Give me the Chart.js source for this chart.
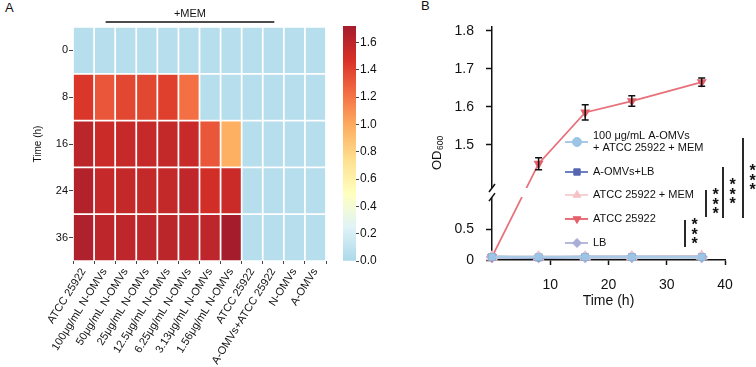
<!DOCTYPE html>
<html lang="en">
<head>
  <meta charset="UTF-8" />
  <title>OD600 heatmap and growth curves</title>
  <script src="https://cdn.jsdelivr.net/npm/chart.js@4"></script>
  <style>
    body {
      margin: 0;
      width: 756px;
      height: 367px;
      background: #fff;
      position: relative;
      overflow: hidden;
      font-family: 'Liberation Sans', Arial, sans-serif;
    }
    .letra { position: absolute; font-size: 13px; color: #111; }
    canvas { position: absolute; top: 0; }
  </style>
</head>
<body>
  <div class="letra" style="left:5px; top:0px;">A</div>
  <div class="letra" style="left:421px; top:-2px;">B</div>
  <canvas id="heat" width="335" height="367" style="left:0"></canvas>
  <canvas id="cbar" width="45" height="367" style="left:335px"></canvas>
  <canvas id="curve" width="376" height="367" style="left:380px"></canvas>

  <script>
    const FONT = "'Liberation Sans', Arial, sans-serif";

    // ---- panel A data (OD600 per group, one array per time point)
    const heatTimes = ['0', '8', '16', '24', '36'];
    const heatGroups = [
      'ATCC 25922', '100μg/mL N-OMVs', '50μg/mL N-OMVs', '25μg/mL N-OMVs',
      '12.5μg/mL N-OMVs', '6.25μg/mL N-OMVs', '3.13μg/mL N-OMVs', '1.56μg/mL N-OMVs',
      'ATCC 25922', 'A-OMVs+ATCC 25922', 'N-OMVs', 'A-OMVs'
    ];
    const od0h  = [0.05, 0.05, 0.05, 0.05, 0.05, 0.05, 0.05, 0.05, 0.05, 0.05, 0.05, 0.05];
    const od8h  = [1.45, 1.32, 1.38, 1.38, 1.41, 1.22, 0.05, 0.05, 0.05, 0.05, 0.05, 0.05];
    const od16h = [1.61, 1.54, 1.56, 1.56, 1.57, 1.55, 1.32, 0.98, 0.05, 0.05, 0.05, 0.05];
    const od24h = [1.65, 1.56, 1.57, 1.57, 1.57, 1.59, 1.50, 1.54, 0.05, 0.05, 0.05, 0.05];
    const od36h = [1.67, 1.60, 1.60, 1.60, 1.61, 1.60, 1.60, 1.72, 0.05, 0.05, 0.05, 0.05];
    const heatRows = [od0h, od8h, od16h, od24h, od36h];
    const memSpan = [1, 9];          // columns under the "+MEM" bar
    const colorbarTicks = [0, 0.2, 0.4, 0.6, 0.8, 1.0, 1.2, 1.4, 1.6];
    const colorbarMax = 1.72;

    // ---- panel B data
    const curveTimes = [0, 8, 16, 24, 36];
    const odAOmvsAtccMem = [0.05, 0.05, 0.05, 0.05, 0.05];
    const odAOmvsLB      = [0.05, 0.04, 0.05, 0.05, 0.05];
    const odAtccMem      = [0.05, 0.05, 0.05, 0.05, 0.06];
    const odAtcc         = [0.05, 1.45, 1.585, 1.615, 1.665];
    const sdAtcc         = [0, 0.016, 0.02, 0.014, 0.011];
    const odLB           = [0.05, 0.05, 0.05, 0.05, 0.05];
    const curveLabels = [
      ['100 μg/mL A-OMVs', '+ ATCC 25922 + MEM'],
      ['A-OMVs+LB'],
      ['ATCC 25922 + MEM'],
      ['ATCC 25922'],
      ['LB']
    ];
    const curveTicksX = [10, 20, 30, 40];
    const curveTicksY = [0, 0.5, 1.5, 1.6, 1.7, 1.8];

    // ---- colour map (blue -> white -> yellow -> red)
    const cmapStops = ['#abd9e9', '#e0f3f8', '#ffffbf', '#fee090', '#fdae61', '#f46d43', '#d73027', '#a51d2d'];
    function hexRgb(h) {
      const n = parseInt(h.slice(1), 16);
      return [n >> 16, (n >> 8) & 255, n & 255];
    }
    function colorFor(v) {
      const t = Math.max(0, Math.min(1, v / colorbarMax)) * (cmapStops.length - 1);
      const i = Math.min(Math.floor(t), cmapStops.length - 2);
      const f = t - i;
      const a = hexRgb(cmapStops[i]), b = hexRgb(cmapStops[i + 1]);
      const c = a.map((x, k) => Math.round(x + (b[k] - x) * f));
      return 'rgb(' + c.join(',') + ')';
    }

    // ---- A: heatmap
    const memBar = {
      id: 'memBar',
      afterDraw(chart) {
        const { ctx } = chart;
        const x = chart.scales.x;
        const x1 = x.getPixelForValue(memSpan[0]) + 1;
        const x2 = x.getPixelForValue(memSpan[1]) + 1;
        ctx.save();
        ctx.strokeStyle = '#111';
        ctx.lineWidth = 1.5;
        ctx.beginPath();
        ctx.moveTo(x1, 22);
        ctx.lineTo(x2, 22);
        ctx.stroke();
        ctx.fillStyle = '#111';
        ctx.font = '11px ' + FONT;
        ctx.textAlign = 'center';
        ctx.textBaseline = 'middle';
        ctx.fillText('+MEM', (x1 + x2) / 2, 14);
        ctx.restore();
      }
    };

    new Chart(document.getElementById('heat'), {
      type: 'bar',
      data: {
        labels: heatGroups,
        datasets: heatRows.map((row, r) => ({
          label: heatTimes[r] + ' h',
          data: row.map(() => [r, r + 1]),
          backgroundColor: row.map(colorFor),
          borderColor: '#fff',
          borderWidth: 1.2,
          borderSkipped: false,
          barPercentage: 1,
          categoryPercentage: 1,
          grouped: false
        }))
      },
      options: {
        responsive: false,
        animation: false,
        layout: { padding: { top: 27, right: 9, left: 0, bottom: 0 } },
        plugins: { legend: { display: false }, tooltip: { enabled: false } },
        scales: {
          x: {
            grid: { drawOnChartArea: false, tickLength: 3, tickColor: '#444', tickWidth: 1 },
            border: { display: false },
            ticks: {
              autoSkip: false, maxRotation: 58, minRotation: 58, padding: 2,
              color: '#111', font: { size: 11, family: FONT }
            },
            afterFit: s => { s.height = 106; }
          },
          y: {
            min: 0, max: 5, reverse: true,
            afterBuildTicks: s => { s.ticks = heatTimes.map((t, i) => ({ value: i + 0.5 })); },
            grid: { drawOnChartArea: false, tickLength: 4, tickColor: '#444', tickWidth: 1 },
            border: { display: false },
            ticks: {
              callback: (v, i) => heatTimes[i], padding: 1,
              color: '#111', font: { size: 11, family: FONT }
            },
            title: {
              display: true, text: 'Time (h)', color: '#111',
              font: { size: 10, family: FONT }, padding: { top: 32, bottom: 0 }
            },
            afterFit: s => { s.width = 73; }
          }
        }
      },
      plugins: [memBar]
    });

    // ---- A: colour bar
    new Chart(document.getElementById('cbar'), {
      type: 'bar',
      data: {
        labels: [''],
        datasets: [{
          data: [[0, colorbarMax]],
          backgroundColor: c => {
            const chart = c.chart;
            if (!chart.chartArea) return cmapStops[0];
            const y = chart.scales.y;
            const g = chart.ctx.createLinearGradient(0, y.getPixelForValue(0), 0, y.getPixelForValue(colorbarMax));
            cmapStops.forEach((col, i) => g.addColorStop(i / (cmapStops.length - 1), col));
            return g;
          },
          borderWidth: 0,
          barPercentage: 1,
          categoryPercentage: 1
        }]
      },
      options: {
        responsive: false,
        animation: false,
        layout: { padding: { top: 26, left: 8, right: 0, bottom: 106 } },
        plugins: { legend: { display: false }, tooltip: { enabled: false } },
        scales: {
          x: { display: false },
          y: {
            position: 'right', min: 0, max: colorbarMax,
            afterBuildTicks: s => { s.ticks = colorbarTicks.map(v => ({ value: v })); },
            grid: { drawOnChartArea: false, tickLength: 3, tickColor: '#444', tickWidth: 1 },
            border: { display: false },
            ticks: {
              callback: v => v.toFixed(1), padding: 1,
              color: '#111', font: { size: 12, family: FONT }
            },
            afterFit: s => { s.width = 24; }
          }
        }
      }
    });

    // ---- B: y axis with a break between ~1.0 and ~1.4
    const LOW_MAX = 1.026, UP_MIN = 1.386, Y_MAX = 1.81;
    const F_LOW = 0.27, F_UP = 0.691;

    class BrokenLinearScale extends Chart.LinearScale {
      static id = 'brokenLinear';
      static defaults = Chart.LinearScale.defaults;
      _frac(v) {
        if (v <= LOW_MAX) return v / LOW_MAX * F_LOW;
        if (v >= UP_MIN) return 1 - (Y_MAX - v) / (Y_MAX - UP_MIN) * F_UP;
        return F_LOW + (v - LOW_MAX) / (UP_MIN - LOW_MAX) * (1 - F_LOW - F_UP);
      }
      getPixelForValue(v) {
        return this.bottom - this._frac(v) * (this.bottom - this.top);
      }
      getValueForPixel(p) {
        const f = (this.bottom - p) / (this.bottom - this.top);
        if (f <= F_LOW) return f / F_LOW * LOW_MAX;
        if (f >= 1 - F_UP) return Y_MAX - (1 - f) / F_UP * (Y_MAX - UP_MIN);
        return LOW_MAX + (f - F_LOW) / (1 - F_LOW - F_UP) * (UP_MIN - LOW_MAX);
      }
    }
    Chart.register(BrokenLinearScale);

    const toPoints = vals => vals.map((v, i) => ({ x: curveTimes[i], y: v }));

    const series = [
      { data: odAOmvsAtccMem, line: '#a9c9e4', fill: '#9cc4e4', style: 'rect', rot: 0, r: 3.5 },
      { data: odAOmvsLB, line: '#6f7fc0', fill: '#5566b0', style: 'rect', rot: 0, r: 3.5 },
      { data: odAtccMem, line: '#f7d0d2', fill: '#f5c3c6', style: 'triangle', rot: 0, r: 4.5 },
      { data: odAtcc, line: '#e8707a', fill: '#e5606b', style: 'triangle', rot: 180, r: 4 },
      { data: odLB, line: '#b5b9dc', fill: '#a9aed6', style: 'rectRot', rot: 0, r: 4.5 }
    ];
    const legendStyles = ['circle', 'rect', 'triangle', 'triangle', 'rectRot'];
    const ATCC_INDEX = 3;

    const breakMarks = {
      id: 'breakMarks',
      afterDatasetsDraw(chart) {
        const { ctx, chartArea } = chart;
        const y = chart.scales.y;
        const yTop = y.getPixelForValue(UP_MIN), yBot = y.getPixelForValue(LOW_MAX);
        ctx.save();
        ctx.fillStyle = '#fff';
        ctx.fillRect(chartArea.left + 2, yTop, chartArea.width - 2, yBot - yTop);
        ctx.restore();
      },
      afterDraw(chart) {
        const { ctx, chartArea } = chart;
        const y = chart.scales.y;
        const yTop = y.getPixelForValue(UP_MIN), yBot = y.getPixelForValue(LOW_MAX);
        const x = chartArea.left;
        ctx.save();
        ctx.fillStyle = '#fff';
        ctx.fillRect(x - 3, yTop, 6, yBot - yTop);
        ctx.strokeStyle = '#111';
        ctx.lineWidth = 1.5;
        [yTop, yBot].forEach(yy => {
          ctx.beginPath();
          ctx.moveTo(x - 3, yy + 4);
          ctx.lineTo(x + 3, yy - 4);
          ctx.stroke();
        });
        ctx.restore();
      }
    };

    const errorBars = {
      id: 'errorBars',
      afterDatasetsDraw(chart) {
        const { ctx } = chart;
        const xs = chart.scales.x, ys = chart.scales.y;
        ctx.save();
        ctx.strokeStyle = '#111';
        ctx.lineWidth = 1.5;
        odAtcc.forEach((v, i) => {
          if (!sdAtcc[i]) return;
          const x = xs.getPixelForValue(curveTimes[i]);
          const y1 = ys.getPixelForValue(v - sdAtcc[i]);
          const y2 = ys.getPixelForValue(v + sdAtcc[i]);
          ctx.beginPath();
          ctx.moveTo(x, y1); ctx.lineTo(x, y2);
          ctx.moveTo(x - 3.5, y1); ctx.lineTo(x + 3.5, y1);
          ctx.moveTo(x - 3.5, y2); ctx.lineTo(x + 3.5, y2);
          ctx.stroke();
        });
        ctx.restore();
      }
    };

    const sideLegend = {
      id: 'sideLegend',
      afterDraw(chart) {
        const { ctx, chartArea } = chart;
        const left = chartArea.left;
        const rowsY = [142, 172, 195, 219, 243];
        ctx.save();
        ctx.font = '11px ' + FONT;
        ctx.textBaseline = 'middle';
        ctx.textAlign = 'left';
        series.forEach((s, i) => {
          const yc = rowsY[i];
          ctx.strokeStyle = s.line;
          ctx.lineWidth = 2;
          ctx.beginPath();
          ctx.moveTo(left + 73, yc);
          ctx.lineTo(left + 96, yc);
          ctx.stroke();
          ctx.fillStyle = s.fill;
          ctx.strokeStyle = s.fill;
          ctx.lineWidth = 1;
          Chart.helpers.drawPoint(ctx, { pointStyle: legendStyles[i], radius: 4.5, rotation: s.rot, borderWidth: 1 }, left + 85, yc);
          ctx.fillStyle = '#111';
          const lines = curveLabels[i];
          lines.forEach((t, k) => {
            ctx.fillText(t, left + 101, yc + (k - (lines.length - 1) / 2) * 12.5);
          });
        });
        ctx.restore();
      }
    };

    // significance brackets: offsets from the right edge / top of the plot area
    const sigMarks = [
      { dx: -40, y1: 193, y2: 220 },
      { dx: -19, y1: 163, y2: 190 },
      { dx: -2, y1: 140, y2: 191, starTop: 155 },
      { dx: 18, y1: 111, y2: 191, starTop: 141 }
    ];
    const sigBars = {
      id: 'sigBars',
      afterDraw(chart) {
        const { ctx, chartArea } = chart;
        ctx.save();
        ctx.strokeStyle = '#111';
        ctx.fillStyle = '#111';
        ctx.lineWidth = 1.8;
        ctx.font = 'bold 16px ' + FONT;
        ctx.textAlign = 'center';
        ctx.textBaseline = 'middle';
        sigMarks.forEach(m => {
          const x = chartArea.right + m.dx;
          ctx.beginPath();
          ctx.moveTo(x, chartArea.top + m.y1);
          ctx.lineTo(x, chartArea.top + m.y2);
          ctx.stroke();
          const st = chartArea.top + (m.starTop !== undefined ? m.starTop : m.y1 + 2);
          for (let k = 0; k < 3; k++) {
            ctx.fillText('*', x + 9.5, st + k * 9.3 + 4);
          }
        });
        ctx.restore();
      }
    };

    const odTitle = {
      id: 'odTitle',
      afterDraw(chart) {
        const { ctx } = chart;
        ctx.save();
        ctx.translate(57, 170);
        ctx.rotate(-Math.PI / 2);
        ctx.fillStyle = '#111';
        ctx.textBaseline = 'middle';
        ctx.textAlign = 'left';
        ctx.font = '13px ' + FONT;
        ctx.fillText('OD', 0, 0);
        const w = ctx.measureText('OD').width;
        ctx.font = '8.5px ' + FONT;
        ctx.fillText('600', w + 0.5, 4);
        ctx.restore();
      }
    };

    new Chart(document.getElementById('curve'), {
      type: 'line',
      data: {
        datasets: series.map((s, i) => ({
          label: curveLabels[i].join(' '),
          data: toPoints(s.data),
          borderColor: s.line,
          backgroundColor: s.fill,
          pointBackgroundColor: s.fill,
          pointBorderColor: s.fill,
          pointStyle: s.style,
          pointRotation: s.rot,
          pointRadius: s.r,
          borderWidth: i === ATCC_INDEX ? 1.8 : 2.5,
          clip: false
        }))
      },
      options: {
        responsive: false,
        animation: false,
        layout: { padding: { top: 27, right: 31, left: 0, bottom: 57 } },
        plugins: { legend: { display: false }, tooltip: { enabled: false } },
        scales: {
          x: {
            type: 'linear', min: 0, max: 40,
            afterBuildTicks: s => { s.ticks = curveTicksX.map(v => ({ value: v })); },
            grid: { drawOnChartArea: false, tickLength: 5, tickColor: '#111', tickWidth: 1.5 },
            border: { color: '#111', width: 1.5 },
            ticks: { padding: 12, color: '#111', font: { size: 14, family: FONT } },
            title: {
              display: true, text: 'Time (h)', color: '#111',
              font: { size: 14, family: FONT }, padding: { top: 0, bottom: 0 }
            },
            afterFit: s => { s.height = 50; }
          },
          y: {
            type: 'brokenLinear', min: 0, max: Y_MAX,
            afterBuildTicks: s => { s.ticks = curveTicksY.map(v => ({ value: v })); },
            grid: { drawOnChartArea: false, tickLength: 6, tickColor: '#111', tickWidth: 1.5 },
            border: { color: '#111', width: 1.5 },
            ticks: {
              callback: v => (v === 0 ? '0' : v.toFixed(1)), padding: 12,
              color: '#111', font: { size: 14, family: FONT }
            },
            afterFit: s => { s.width = 112; }
          }
        }
      },
      plugins: [breakMarks, errorBars, sideLegend, sigBars, odTitle]
    });
  </script>
</body>
</html>
